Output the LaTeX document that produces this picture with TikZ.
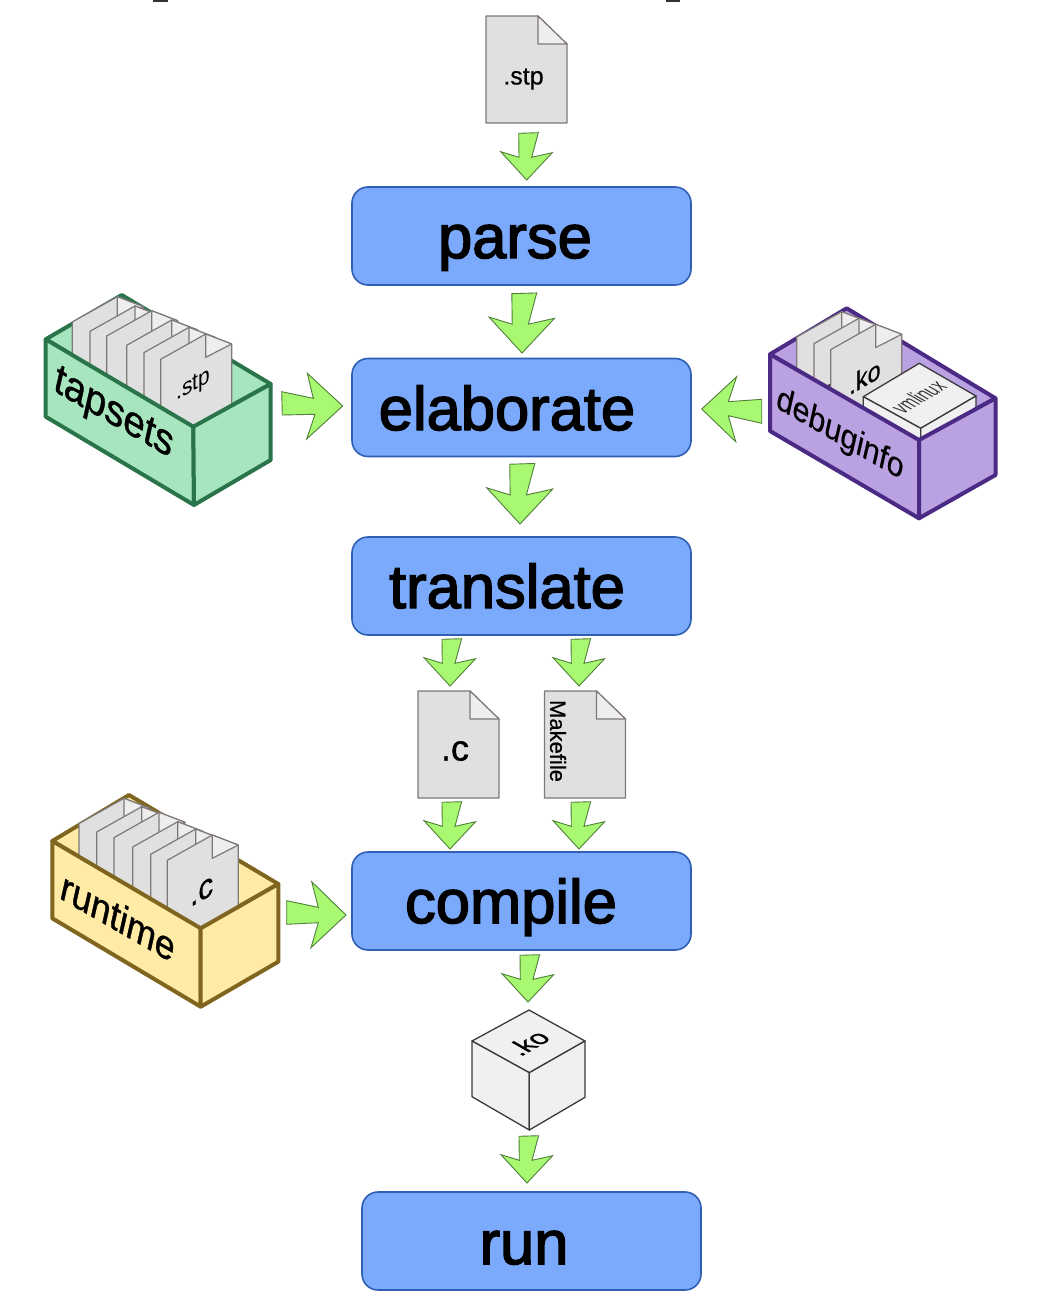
\documentclass[tikz,border=0pt]{standalone}
\usepackage{fontspec}
\setmainfont{Liberation Sans}
\newfontfamily\stagefont[FakeBold=2.4]{Liberation Sans}
\newfontfamily\labelfont[FakeBold=1]{Liberation Sans}
\newfontfamily\smallfont[FakeBold=0.5]{Liberation Sans}
\definecolor{stagefill}{HTML}{7BAAFC}
\definecolor{stageline}{HTML}{2F5FB5}
\definecolor{arrowfill}{HTML}{A9F872}
\definecolor{arrowline}{HTML}{4F7F3A}
\definecolor{filefill}{HTML}{E0E0E0}
\definecolor{foldfill}{HTML}{EEEEEE}
\definecolor{fileline}{HTML}{7F7878}
\definecolor{cubefill}{HTML}{F0F0F0}
\definecolor{cubeline}{HTML}{3A3A3A}
\definecolor{greenfill}{HTML}{A7E5BE}
\definecolor{greenline}{HTML}{2A7449}
\definecolor{purplefill}{HTML}{BAA2E2}
\definecolor{purpleline}{HTML}{4A2A85}
\definecolor{yellowfill}{HTML}{FFEBA6}
\definecolor{yellowline}{HTML}{80651F}
\tikzset{
  x=1pt,y=-1pt,
  stage/.style={draw=stageline,fill=stagefill,line width=1.6pt,rounded corners=16pt,minimum width=339pt,minimum height=98pt,inner sep=0pt},
  stagetext/.style={font=\stagefont\fontsize{61.5}{61.5}\selectfont,inner sep=0pt,text=black,anchor=base},
  blockarrow/.style={draw=arrowline,fill=arrowfill,line width=0.9pt,line join=miter},
  filebody/.style={draw=fileline,fill=filefill,line width=1.2pt,line join=round},
  filefold/.style={draw=fileline,fill=foldfill,line width=1.2pt,line join=round},
  cubeface/.style={draw=cubeline,fill=cubefill,line width=1.3pt,line join=round},
  tag/.style={inner sep=0pt,text=black},
  isoright/.style={cm={0.87,0.5,0,1,(0,0)}},
  isotop/.style={cm={0.87,0.5,-0.87,0.5,(0,0)}},
  isotopnarrow/.style={cm={0.55,0.32,-0.87,0.5,(0,0)}},
  isofront/.style={cm={0.87,-0.5,0.22,0.97,(0,0)}},
  pics/down/.style={code={
    \begin{scope}[scale=#1]
    \path[blockarrow] (-8,-46.7)--(11.6,-47.3)--(5,-22.7)--(25.6,-27.3)--(0,0)--(-26,-28.3)--(-7.7,-22.7)--cycle;
    \end{scope}}},
  pics/flatfile/.style={code={
    \path[filebody] (0,0)--(52,0)--(81,28)--(81,107)--(0,107)--cycle;
    \path[filefold] (52,0)--(81,28)--(52,28)--cycle;}},
  pics/slantfile/.style={code={
    \path[filebody] (-45,25.3)--(0,0)--(26,10)--(26,120)--(-45,120)--cycle;
    \path[filefold] (0,0)--(26,10)--(0,23.3)--cycle;}},
}
\newcommand{\housing}[9]{%
  \path[draw=#1line,fill=#1fill,line width=4pt,line join=round] #3--#2--#4--#5--cycle;
  \begin{scope}
    \clip #3--#5--#4--++(0,-160)--++(-260,0)--cycle;
    #9
  \end{scope}
  \path[draw=#1line,fill=#1fill,line width=4pt,line join=round] #3--#5--#7--#6--cycle;
  \path[draw=#1line,fill=#1fill,line width=4pt,line join=round] #5--#4--#8--#7--cycle;
}
\begin{document}
\begin{tikzpicture}
\useasboundingbox (0,0) rectangle (1051,1306);
\fill[white] (0,0) rectangle (1051,1306);

% clipped title fragments
\fill[black!80] (153,0) rectangle (168,1.6);
\fill[black!80] (666,0) rectangle (680,1.8);

% stages
\node[stage] (parse) at (521.5,236) {};
\node[stage] (elaborate) at (521.5,407.5) {};
\node[stage] (translate) at (521.5,586) {};
\node[stage] (compile) at (521.5,901) {};
\node[stage] (run) at (531.5,1241) {};
\node[stagetext] (parset) at (515,258) {parse};
\node[stagetext] (elaboratet) at (507,430) {elaborate};
\node[stagetext] (translatet) at (507,608) {translate};
\node[stagetext] (compilet) at (511,923) {compile};
\node[stagetext] (runt) at (524,1264) {run};

% flat files
\pic at (486,16) {flatfile};
\node[tag,font=\smallfont\fontsize{25}{25}\selectfont] (stpf) at (523.5,79) {.stp};
\pic at (418,691) {flatfile};
\node[tag,font=\labelfont\fontsize{36}{36}\selectfont] (cf) at (455,751) {.c};
\pic at (544.5,691) {flatfile};
\node[tag,rotate=-90,font=\smallfont\fontsize{22}{22}\selectfont] (mk) at (558,741) {Makefile};

% cube
\path[cubeface] (529,1010)--(585,1041)--(529.3,1072.7)--(472,1041)--cycle;
\path[cubeface] (472,1041)--(529.3,1072.7)--(529.3,1130)--(472,1096.7)--cycle;
\path[cubeface] (585,1041)--(529.3,1072.7)--(529.3,1130)--(585,1097.3)--cycle;
\node[tag,isotop,font=\labelfont\fontsize{27}{27}\selectfont] (kocube) at (528,1043) {.ko};

% tapsets
\housing{green}{(121.7,295)}{(45.7,339.3)}{(270.7,384)}{(193.3,426.7)}{(45.7,416.7)}{(194,505)}{(270.7,460)}{%
  \pic at (117.3,296.7) {slantfile};
  \fill (105,370.7) circle (1.1);
  \pic at (135,306) {slantfile};
  \fill (122.3,377.3) circle (1.1);
  \pic at (151.7,310.7) {slantfile};
  \fill (142.3,386.7) circle (1.1);
  \pic at (171.7,320) {slantfile};
  \fill (159,394) circle (1.1);
  \pic at (189,327.3) {slantfile};
  \pic at (205.7,334) {slantfile};
  \node[tag,isoright,font=\fontsize{24}{24}\selectfont] (stpbox) at (193.3,386) {.stp};
}
\node[tag,isofront,font=\labelfont\fontsize{42}{42}\selectfont] (tapsets) at (113.3,415) {tapsets};

% debuginfo
\housing{purple}{(846.7,308.3)}{(770,354.3)}{(995.5,398.3)}{(919,440)}{(770,431)}{(919,518.3)}{(995.5,475)}{%
  \pic at (841.7,311.7) {slantfile};
  \pic at (859,318.3) {slantfile};
  \fill (829,385) circle (1);
  \pic at (875.7,324.3) {slantfile};
  \node[tag,isoright,font=\smallfont\fontsize{27}{27}\selectfont] (kobox) at (865,376.7) {.ko};
  \path[cubeface] (919.3,363.3)--(976,396)--(920.7,428.3)--(863.3,396.7)--cycle;
  \path[cubeface] (863.3,396.7)--(920.7,428.3)--(920.7,445)--(863.3,412)--cycle;
  \path[cubeface] (976,396)--(920.7,428.3)--(920.7,445)--(976,412)--cycle;
  \node[tag,isotopnarrow,font=\fontsize{24}{24}\selectfont,text=black!80] (vmlinux) at (918.3,396.7) {vmlinux};
}
\node[tag,isofront,font=\smallfont\fontsize{33}{33}\selectfont] (debuginfo) at (840,435) {debuginfo};

% runtime
\housing{yellow}{(129,795)}{(52.3,841)}{(278.3,884)}{(200.7,928.3)}{(52.3,918.3)}{(200.7,1006.7)}{(278.3,961.7)}{%
  \pic at (124,798.3) {slantfile};
  \fill (111.7,873.3) circle (1.1);
  \pic at (141.7,806.7) {slantfile};
  \fill (129.3,879) circle (1.1);
  \pic at (159,812.3) {slantfile};
  \fill (148.3,888.3) circle (1.1);
  \pic at (177.7,821.7) {slantfile};
  \fill (166,895) circle (1.1);
  \pic at (195.7,829) {slantfile};
  \pic at (212.3,835) {slantfile};
  \node[tag,isoright,font=\smallfont\fontsize{34}{34}\selectfont] (cbox) at (201.7,891.7) {.c};
}
\node[tag,isofront,font=\labelfont\fontsize{39}{39}\selectfont] (runtime) at (118.3,916.7) {runtime};

% block arrows
\pic at (526.7,180) {down=1};
\pic at (522,353) {down=1.27};
\pic at (520,524) {down=1.28};
\pic at (450,686) {down=1};
\pic at (579,686) {down=1};
\pic at (450,849) {down=1};
\pic at (579,849) {down=1};
\pic at (528,1002) {down=1};
\pic at (527,1183) {down=1};
\path[blockarrow] (281.7,391.7)--(313.3,398.3)--(307.3,373.3)--(342.7,406)--(306.7,439)--(315,414.3)--(282.3,415)--cycle;
\path[blockarrow] (761.7,399.3)--(728.3,401.7)--(736.7,376.7)--(701.7,409)--(735.7,441.7)--(728.3,415.7)--(761.7,423.3)--cycle;
\path[blockarrow] (286.7,900.7)--(318.3,907.3)--(311.7,881.7)--(346,915)--(311,947.7)--(318.3,922.7)--(286.7,924.3)--cycle;
\end{tikzpicture}
\end{document}
